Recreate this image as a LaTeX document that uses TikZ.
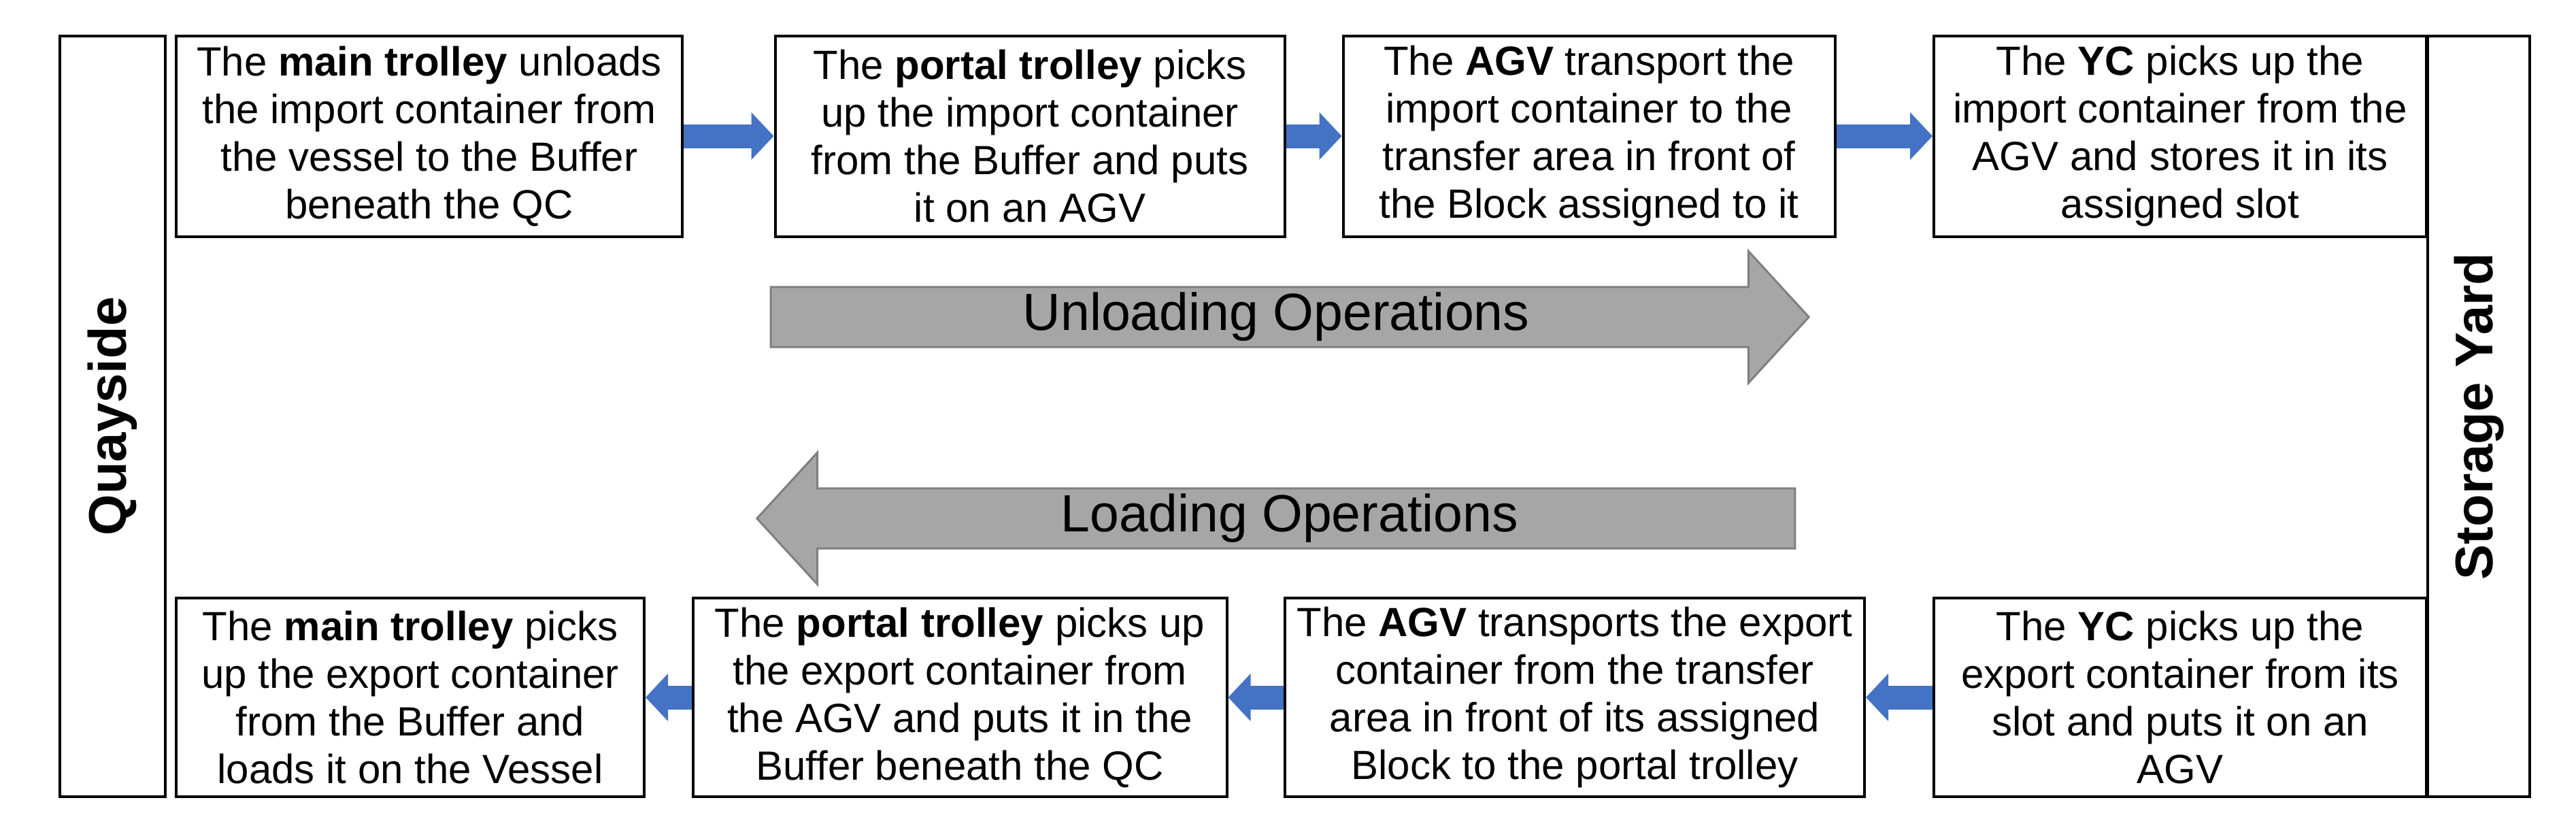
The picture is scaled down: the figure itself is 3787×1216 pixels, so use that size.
\documentclass[tikz,border=0pt]{standalone}
\usepackage{fontspec}
\setmainfont{Liberation Sans}
\usetikzlibrary{shapes.arrows,arrows.meta}
\definecolor{bluearr}{HTML}{4472C4}
\definecolor{grayfill}{HTML}{A6A6A6}
\definecolor{grayline}{HTML}{7F7F7F}
\begin{document}
\begin{tikzpicture}[x=1pt,y=-1pt,
  stepbox/.style={draw=black,line width=4pt,fill=white,inner sep=0pt,align=center,
    font=\fontsize{60}{70}\selectfont},
  sidebox/.style={draw=black,line width=4pt,inner sep=0pt},
  bluearrow/.style={draw=bluearr,line width=35pt,-{Triangle[width=68pt,length=33pt]}},
  bigarrow/.style={single arrow,draw=grayline,fill=grayfill,line width=3pt,
    minimum height=1526pt,minimum width=194pt,single arrow head extend=45pt,
    single arrow tip angle=95,inner sep=0pt,font=\fontsize{77}{90}\selectfont}]
\useasboundingbox (0,0) rectangle (3787,1216);
% side boxes
\node[sidebox,minimum width=155pt,minimum height=1118pt] (qs) at (165,612) {};
\node[rotate=90,font=\fontsize{78}{90}\selectfont\bfseries] (qst) at (qs.center) {Quayside};
\node[sidebox,minimum width=150pt,minimum height=1118pt] (sy) at (3644,612) {};
\node[rotate=90,font=\fontsize{78}{90}\selectfont\bfseries] (syt) at (sy.center) {Storage Yard};
% top boxes
\node[stepbox,minimum width=744pt,minimum height=295pt] (b1) at (631,200)
 {The \textbf{main trolley} unloads\\the import container from\\the vessel to the Buffer\\beneath the QC};
\node[stepbox,minimum width=749pt,minimum height=295pt] (b2) at (1514,200)
 {The \textbf{portal trolley} picks\\up the import container\\from the Buffer and puts\\it on an AGV};
\node[stepbox,minimum width=723pt,minimum height=295pt] (b3) at (2336,200)
 {The \textbf{AGV} transport the\\import container to the\\transfer area in front of\\the Block assigned to it};
\node[stepbox,minimum width=724pt,minimum height=295pt] (b4) at (3205,200)
 {The \textbf{YC} picks up the\\import container from the\\AGV and stores it in its\\assigned slot};
% bottom boxes
\node[stepbox,minimum width=688pt,minimum height=292pt] (b5) at (603,1025)
 {The \textbf{main trolley} picks\\up the export container\\from the Buffer and\\loads it on the Vessel};
\node[stepbox,minimum width=785pt,minimum height=292pt] (b6) at (1411,1025)
 {The \textbf{portal trolley} picks up\\the export container from\\the AGV and puts it in the\\Buffer beneath the QC};
\node[stepbox,minimum width=852pt,minimum height=292pt] (b7) at (2315,1025)
 {The \textbf{AGV} transports the export\\container from the transfer\\area in front of its assigned\\Block to the portal trolley};
\node[stepbox,minimum width=724pt,minimum height=292pt] (b8) at (3205,1025)
 {The \textbf{YC} picks up the\\export container from its\\slot and puts it on an\\AGV};
% blue arrows
\draw[bluearrow] (b1.east) -- (b2.west);
\draw[bluearrow] (b2.east) -- (b3.west);
\draw[bluearrow] (b3.east) -- (b4.west);
\draw[bluearrow] (b8.west) -- (b7.east);
\draw[bluearrow] (b7.west) -- (b6.east);
\draw[bluearrow] (b6.west) -- (b5.east);
% big arrows
\node[bigarrow] (unl) at (1876,466) {Unloading Operations};
\node[bigarrow,shape border rotate=180] (lod) at (1896,762) {Loading Operations};
\end{tikzpicture}
\end{document}
